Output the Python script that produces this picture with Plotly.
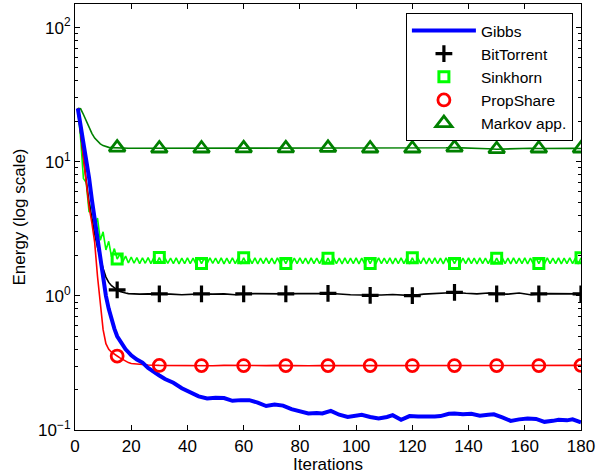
import plotly.graph_objects as go

# ---------------- data ----------------
iters_s = list(range(1, 181))  # Sinkhorn, every iteration
sinkhorn = [25, 15, 7.5, 7.0, 4.2, 4.9, 3.3, 3.8, 2.6, 3.0,
            2.2, 2.55, 1.95, 2.25, 1.88, 2.05, 1.8, 1.98, 1.76, 1.95,
            1.75, 1.93, 1.74, 1.92, 1.75, 1.93, 1.74, 1.92, 1.75, 1.93,
            1.74, 1.92, 1.75, 1.91, 1.74, 1.92, 1.73, 1.91, 1.74, 1.92,
            1.74, 1.91, 1.73, 1.92, 1.74, 1.91, 1.74, 1.92, 1.75, 1.91,
            1.74, 1.92, 1.73, 1.91, 1.74, 1.92, 1.74, 1.91, 1.73, 1.92,
            1.74, 1.91, 1.74, 1.92, 1.73, 1.91, 1.74, 1.92, 1.74, 1.91,
            1.73, 1.92, 1.74, 1.91, 1.74, 1.92, 1.73, 1.91, 1.74, 1.92,
            1.74, 1.91, 1.73, 1.92, 1.74, 1.91, 1.74, 1.92, 1.73, 1.91,
            1.74, 1.92, 1.74, 1.91, 1.73, 1.92, 1.74, 1.91, 1.74, 1.92,
            1.73, 1.91, 1.74, 1.92, 1.74, 1.91, 1.73, 1.92, 1.74, 1.91,
            1.74, 1.92, 1.73, 1.91, 1.74, 1.92, 1.74, 1.91, 1.73, 1.92,
            1.74, 1.91, 1.74, 1.92, 1.73, 1.91, 1.74, 1.92, 1.74, 1.91,
            1.73, 1.92, 1.74, 1.91, 1.74, 1.92, 1.73, 1.91, 1.74, 1.92,
            1.74, 1.91, 1.73, 1.92, 1.74, 1.91, 1.74, 1.92, 1.73, 1.91,
            1.74, 1.92, 1.74, 1.91, 1.73, 1.92, 1.74, 1.91, 1.74, 1.92,
            1.73, 1.91, 1.74, 1.92, 1.74, 1.91, 1.73, 1.92, 1.74, 1.91,
            1.74, 1.92, 1.73, 1.91, 1.74, 1.92, 1.74, 1.91, 1.73, 1.92]

iters_c = list(range(1, 21)) + [23, 26, 30, 34, 38, 42, 45, 49, 53, 57, 60,
                                64, 68, 72, 75, 79, 83, 87, 90, 94, 98, 102, 105,
                                109, 113, 117, 120, 124, 128, 132, 135, 139, 143,
                                147, 150, 154, 158, 162, 165, 169, 173, 177, 180]
bittorrent = [25, 16, 10.5, 7.2, 5.0, 3.7, 2.9, 2.3, 1.9, 1.6,
              1.38, 1.26, 1.19, 1.14, 1.11, 1.08, 1.06, 1.05, 1.04, 1.035,
              1.03, 1.035, 1.035,
              1.03, 1.02, 1.035, 1.035,
              1.03, 1.035, 1.02, 1.035,
              1.04, 1.035, 1.03, 1.035,
              1.04, 1.035, 1.04, 1.045,
              1.03, 1.02, 1.015, 1.01,
              1.015, 1.025, 1.02, 1.005,
              1.03, 1.04, 1.05, 1.06,
              1.045, 1.035, 1.05, 1.035,
              1.03, 1.05, 1.02, 1.035,
              1.04, 1.035, 1.04, 1.035]
propshare = [25, 16, 10.5, 6.8, 4.6, 3.5, 2.5, 1.4, 0.85, 0.56,
             0.44, 0.40, 0.38, 0.365, 0.356, 0.345, 0.335, 0.325, 0.318, 0.313,
             0.308, 0.305, 0.303,
             0.302, 0.301, 0.302, 0.302,
             0.301, 0.303, 0.302, 0.302,
             0.301, 0.302, 0.303, 0.302,
             0.302, 0.301, 0.302, 0.302,
             0.303, 0.302, 0.301, 0.302,
             0.302, 0.303, 0.302, 0.302,
             0.301, 0.302, 0.303, 0.302,
             0.302, 0.301, 0.302, 0.302,
             0.303, 0.302, 0.301, 0.302,
             0.302, 0.303, 0.302, 0.303]
markov = [25, 24.8, 22.5, 20, 18, 16.3, 15, 14.2, 13.6, 13.2,
          12.95, 12.8, 12.75, 12.7, 12.75, 12.7, 12.65, 12.6, 12.6, 12.6,
          12.6, 12.55, 12.55,
          12.6, 12.55, 12.6, 12.55,
          12.6, 12.6, 12.65, 12.6,
          12.6, 12.65, 12.6, 12.6,
          12.65, 12.6, 12.65, 12.7,
          12.6, 12.55, 12.6, 12.55,
          12.6, 12.55, 12.6, 12.55,
          12.6, 12.65, 12.7, 12.75,
          12.7, 12.6, 12.5, 12.4,
          12.5, 12.55, 12.6, 12.55,
          12.6, 12.55, 12.6, 12.55]

iters_g = list(range(1, 21)) + [22, 24, 26, 28, 30, 32, 35, 38, 41, 44, 47, 50,
                                53, 56, 59, 62, 65, 68, 71, 74, 77, 80, 83, 86,
                                88, 91, 94, 97, 100, 102, 105, 108, 111, 113, 116,
                                119, 122, 125, 128, 130, 133, 135, 138, 141, 144,
                                147, 149, 152, 155, 158, 161, 164, 167, 170, 172,
                                175, 177, 180]
gibbs = [25, 19, 14, 10.5, 7.6, 5.2, 3.7, 2.6, 1.85, 1.35,
         1.0, 0.8, 0.66, 0.57, 0.5, 0.46, 0.43, 0.40, 0.38, 0.36,
         0.335, 0.318, 0.29, 0.27, 0.255, 0.24, 0.225, 0.205, 0.19, 0.178, 0.172, 0.174,
         0.173, 0.165, 0.167, 0.167, 0.16, 0.151, 0.155, 0.152, 0.143, 0.138, 0.133, 0.134,
         0.133, 0.139, 0.13, 0.125, 0.127, 0.13, 0.125, 0.122, 0.125, 0.129, 0.119,
         0.127, 0.126, 0.125, 0.126, 0.127, 0.132, 0.133, 0.131, 0.132, 0.128,
         0.13, 0.131, 0.124, 0.117, 0.12, 0.122, 0.121, 0.115, 0.117, 0.119,
         0.118, 0.12, 0.114]

marker_iters = [15, 30, 45, 60, 75, 90, 105, 120, 135, 150, 165, 180]

x_ticks = [0, 20, 40, 60, 80, 100, 120, 140, 160, 180]
y_ticks = [0.1, 1, 10, 100]
y_ticktext = ["10<sup>\u22121</sup>", "10<sup>0</sup>", "10<sup>1</sup>", "10<sup>2</sup>"]
y_minor = [0.2, 0.3, 0.4, 0.5, 0.6, 0.7, 0.8, 0.9,
           2, 3, 4, 5, 6, 7, 8, 9,
           20, 30, 40, 50, 60, 70, 80, 90]


def pick(xs, ys, at):
    lut = dict(zip(xs, ys))
    return [lut[a] for a in at]


FONT = "Liberation Sans, Arial, Helvetica, sans-serif"

fig = go.Figure()

# lines (no legend)
fig.add_trace(go.Scatter(x=iters_c, y=markov, mode="lines", showlegend=False,
                         line=dict(color="#008000", width=1.6)))
fig.add_trace(go.Scatter(x=iters_s, y=sinkhorn, mode="lines", showlegend=False,
                         line=dict(color="#00ff00", width=1.6)))
fig.add_trace(go.Scatter(x=iters_c, y=bittorrent, mode="lines", showlegend=False,
                         line=dict(color="black", width=1.6)))
fig.add_trace(go.Scatter(x=iters_c, y=propshare, mode="lines", showlegend=False,
                         line=dict(color="#ff0000", width=1.6)))

# Gibbs (legend with line)
fig.add_trace(go.Scatter(x=iters_g, y=gibbs, mode="lines", name="Gibbs",
                         line=dict(color="#0000ff", width=4)))

# marker traces (legend with markers only)
fig.add_trace(go.Scatter(x=marker_iters, y=pick(iters_c, bittorrent, marker_iters),
                         mode="markers", name="BitTorrent",
                         marker=dict(symbol="cross-thin", size=12, color="black",
                                     line=dict(color="black", width=3.2))))
fig.add_trace(go.Scatter(x=marker_iters, y=pick(iters_s, sinkhorn, marker_iters),
                         mode="markers", name="Sinkhorn",
                         marker=dict(symbol="square-open", size=10, color="#00ff00",
                                     line=dict(color="#00ff00", width=3))))
fig.add_trace(go.Scatter(x=marker_iters, y=pick(iters_c, propshare, marker_iters),
                         mode="markers", name="PropShare",
                         marker=dict(symbol="circle-open", size=12, color="#ff0000",
                                     line=dict(color="#ff0000", width=2.8))))
fig.add_trace(go.Scatter(x=marker_iters, y=pick(iters_c, markov, marker_iters),
                         mode="markers", name="Markov app.",
                         marker=dict(symbol="triangle-up-open", size=14, color="#008000",
                                     line=dict(color="#008000", width=2.8))))

fig.update_layout(
    width=601, height=476,
    margin=dict(l=75, r=20, t=4, b=46),
    paper_bgcolor="white", plot_bgcolor="white",
    font=dict(family=FONT, size=17, color="black"),
    showlegend=True,
    legend=dict(x=0.984, y=0.979, xanchor="right", yanchor="top",
                bgcolor="white", bordercolor="black", borderwidth=1,
                font=dict(family=FONT, size=15.5, color="black"),
                tracegroupgap=0, itemwidth=64),
)
fig.update_xaxes(
    range=[0, 180], tickmode="array", tickvals=x_ticks,
    ticks="inside", ticklen=5, tickwidth=1, tickcolor="black",
    showline=True, linecolor="black", linewidth=1.2, mirror="ticks",
    showgrid=False, zeroline=False,
    title=dict(text="Iterations", standoff=2, font=dict(size=17)),
    tickfont=dict(size=17),
)
fig.update_yaxes(
    type="log", range=[-1, 2.176],
    tickmode="array", tickvals=y_ticks, ticktext=y_ticktext,
    ticks="inside", ticklen=5, tickwidth=1, tickcolor="black",
    minor=dict(tickmode="array", tickvals=y_minor, ticks="inside", ticklen=3,
               tickcolor="black", tickwidth=1, showgrid=False),
    showline=True, linecolor="black", linewidth=1.2, mirror="ticks",
    showgrid=False, zeroline=False,
    title=dict(text="Energy (log scale)", standoff=8, font=dict(size=17)),
    tickfont=dict(size=17),
)

fig.write_html("out.html",
               config={"displayModeBar": False},
               post_script="document.body.style.margin='0';document.body.style.overflow='hidden';")
